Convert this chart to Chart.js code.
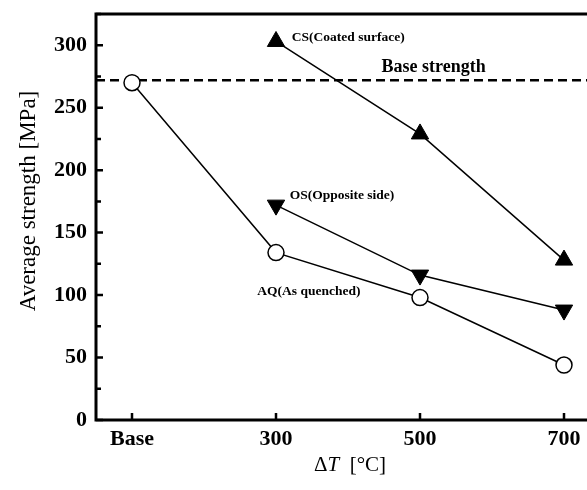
<!DOCTYPE html>
<html>
<head>
<meta charset="utf-8">
<script src="https://cdn.jsdelivr.net/npm/chart.js@4"></script>
<style>
  html, body { margin: 0; padding: 0; background: #fff; overflow: hidden; }
  #wrap { width: 587px; height: 490px; overflow: hidden; }
  canvas { display: block; }
</style>
</head>
<body>
<div id="wrap"><canvas id="myChart" width="600" height="490"></canvas></div>
<script>
// x positions (100 stands for the "Base" column)
const temps = [100, 300, 500, 700];
const tickLabels = ['Base', '300', '500', '700'];
const yTicks = [0, 50, 100, 150, 200, 250, 300];

// Average strength [MPa]
const aqValues = [270, 134, 98, 44];
const sideTemps = [300, 500, 700];
const osValues = [172, 116, 88];
const csValues = [303, 229, 128];
const baseStrength = 272;

const SERIF = "'Liberation Serif', 'Times New Roman', serif";

const toPoints = (xs, ys) => xs.map((x, i) => ({ x: x, y: ys[i] }));

// annotation texts, placed in data coordinates
const notes = [
  { text: 'CS(Coated surface)', x: 322, y: 306, size: 13.5, align: 'left' },
  { text: 'Base strength', x: 519, y: 282, size: 18, align: 'center' },
  { text: 'OS(Opposite side)', x: 319, y: 180, size: 13.5, align: 'left' },
  { text: 'AQ(As quenched)', x: 274, y: 102.5, size: 13.5, align: 'left' },
];

// no automatic label padding, the frame is fixed
const noPad = s => { s.paddingTop = 0; s.paddingBottom = 0; s.paddingLeft = 0; s.paddingRight = 0; };

// axis frame, inward ticks, texts
const framePlugin = {
  id: 'frame',
  afterDatasetsDraw(chart) {
    const { ctx, chartArea: a, scales: { x, y } } = chart;
    ctx.save();
    ctx.strokeStyle = '#000';
    ctx.lineWidth = 3;
    ctx.beginPath();
    ctx.moveTo(a.left, a.top); ctx.lineTo(a.right, a.top);
    ctx.moveTo(a.left, a.top - 1.5); ctx.lineTo(a.left, a.bottom + 1.5);
    ctx.moveTo(a.left, a.bottom); ctx.lineTo(a.right, a.bottom);
    ctx.stroke();

    ctx.lineWidth = 2.5;
    ctx.beginPath();
    for (let v = 0; v <= 325; v += 25) {
      const py = y.getPixelForValue(v);
      const len = v % 50 === 0 ? 7 : 5;
      ctx.moveTo(a.left, py); ctx.lineTo(a.left + len, py);
    }
    temps.forEach(t => {
      const px = x.getPixelForValue(t);
      ctx.moveTo(px, a.bottom); ctx.lineTo(px, a.bottom - 7);
    });
    ctx.stroke();

    ctx.fillStyle = '#000';
    ctx.textBaseline = 'middle';
    notes.forEach(n => {
      ctx.font = 'bold ' + n.size + 'px ' + SERIF;
      ctx.textAlign = n.align;
      ctx.fillText(n.text, x.getPixelForValue(n.x), y.getPixelForValue(n.y));
    });

    // y title
    ctx.save();
    ctx.translate(29, 201);
    ctx.rotate(-Math.PI / 2);
    ctx.font = '23px ' + SERIF;
    ctx.textAlign = 'center';
    ctx.fillText('Average strength [MPa]', 0, 0);
    ctx.restore();

    // x title: ΔT [°C]
    const parts = [
      { t: '\u0394', f: '21px ' + SERIF },
      { t: 'T', f: 'italic 21px ' + SERIF },
      { t: '  [\u00B0C]', f: '21px ' + SERIF },
    ];
    let total = 0;
    parts.forEach(p => { ctx.font = p.f; p.w = ctx.measureText(p.t).width; total += p.w; });
    let cx = 350 - total / 2;
    ctx.textAlign = 'left';
    parts.forEach(p => { ctx.font = p.f; ctx.fillText(p.t, cx, 465); cx += p.w; });
    ctx.restore();
  }
};

new Chart(document.getElementById('myChart'), {
  type: 'scatter',
  data: {
    datasets: [
      {
        label: 'Base strength',
        data: toPoints([50, 750], [baseStrength, baseStrength]),
        showLine: true,
        borderColor: '#000',
        borderWidth: 2.5,
        borderDash: [9, 5],
        pointRadius: 0,
        order: 10,
      },
      {
        label: 'AQ',
        data: toPoints(temps, aqValues),
        showLine: true,
        borderColor: '#000',
        borderWidth: 1.5,
        pointStyle: 'circle',
        pointRadius: 8,
        pointBackgroundColor: '#fff',
        pointBorderColor: '#000',
        pointBorderWidth: 1.5,
        order: 1,
      },
      {
        label: 'OS',
        data: toPoints(sideTemps, osValues),
        showLine: true,
        borderColor: '#000',
        borderWidth: 1.5,
        pointStyle: 'triangle',
        rotation: 180,
        pointRadius: 10,
        pointBackgroundColor: '#000',
        pointBorderColor: '#000',
        pointBorderWidth: 1,
        order: 2,
      },
      {
        label: 'CS',
        data: toPoints(sideTemps, csValues),
        showLine: true,
        borderColor: '#000',
        borderWidth: 1.5,
        pointStyle: 'triangle',
        pointRadius: 10,
        pointBackgroundColor: '#000',
        pointBorderColor: '#000',
        pointBorderWidth: 1,
        order: 3,
      },
    ],
  },
  options: {
    responsive: false,
    animation: false,
    clip: false,
    layout: { autoPadding: false, padding: { top: 14, left: 0, right: 0, bottom: 0 } },
    plugins: { legend: { display: false }, tooltip: { enabled: false } },
    scales: {
      x: {
        type: 'linear',
        min: 50,
        max: 750,
        grid: { display: false, drawTicks: false, tickLength: 0 },
        border: { display: false },
        afterBuildTicks: s => { s.ticks = temps.map(v => ({ value: v })); },
        afterFit: s => { s.height = 70; noPad(s); },
        ticks: {
          padding: 6,
          color: '#000',
          font: { family: SERIF, size: 22, weight: 'bold' },
          callback: v => tickLabels[temps.indexOf(v)],
        },
      },
      y: {
        min: 0,
        max: 325,
        grid: { display: false, drawTicks: false, tickLength: 0 },
        border: { display: false },
        afterBuildTicks: s => { s.ticks = yTicks.map(v => ({ value: v })); },
        afterFit: s => { s.width = 96; noPad(s); },
        ticks: {
          padding: 9,
          color: '#000',
          font: { family: SERIF, size: 22, weight: 'bold' },
        },
      },
    },
  },
  plugins: [framePlugin],
});
</script>
</body>
</html>
